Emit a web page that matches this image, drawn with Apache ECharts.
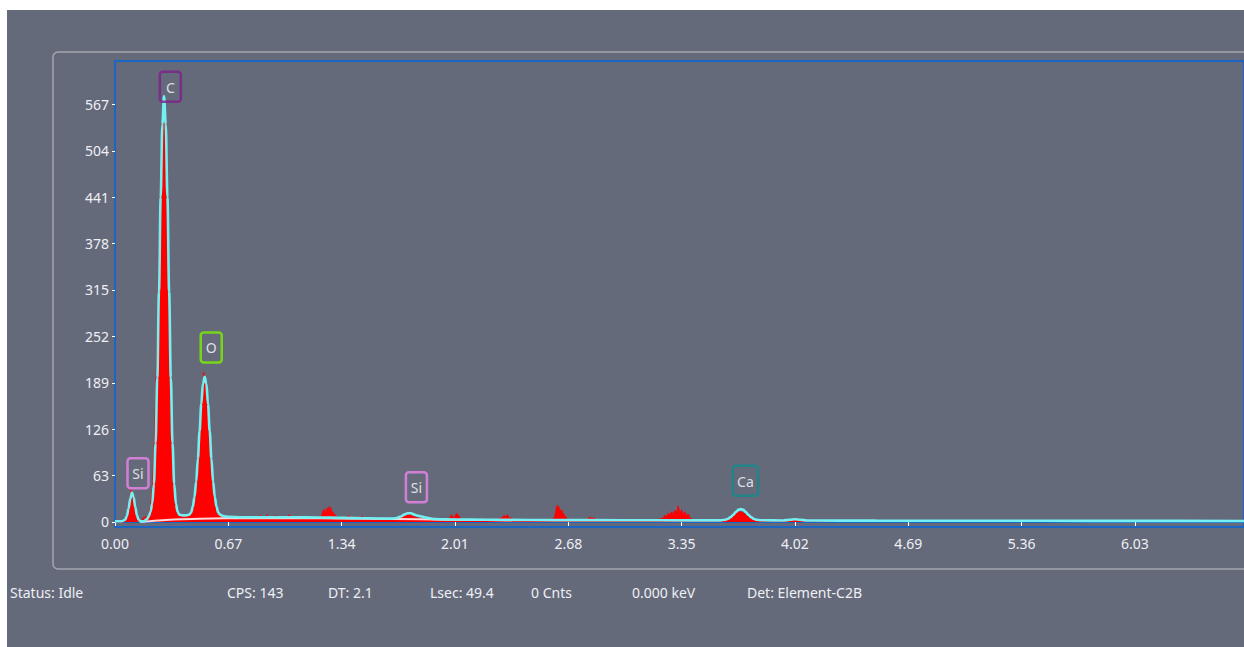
<!DOCTYPE html>
<html>
<head>
<meta charset="utf-8">
<title>EDS Spectrum</title>
<script src="https://cdn.jsdelivr.net/npm/echarts@6.0.0/dist/echarts.min.js"></script>
<style>
  html, body { margin: 0; padding: 0; background: #ffffff; width: 1244px; height: 647px; overflow: hidden; }
  #chart { position: absolute; left: 7px; top: 10px; width: 1237px; height: 637px; }
</style>
</head>
<body>
<div id="chart"></div>
<script>
// Measured counts per energy channel [keV, counts]
const measuredSpectrum = [
  [0.00,0],[0.06,0],[0.07,3],[0.08,12],[0.085,26],[0.09,38],[0.095,44],[0.10,42],[0.105,36],[0.11,30],
  [0.115,22],[0.12,14],[0.13,5],[0.14,1],[0.15,0],[0.16,2],[0.165,6],[0.17,3],[0.18,8],[0.19,5],[0.20,12],
  [0.21,22],[0.22,45],[0.23,95],[0.24,170],[0.25,250],[0.26,370],[0.27,470],[0.28,540],[0.29,558],[0.30,525],
  [0.31,430],[0.32,300],[0.33,185],[0.34,100],[0.35,48],[0.36,22],[0.37,12],[0.38,9],[0.39,7],[0.40,8],
  [0.41,6],[0.42,9],[0.43,8],[0.44,11],
  [0.45,15],[0.46,22],[0.47,36],[0.48,58],[0.49,90],[0.50,128],[0.51,165],[0.52,192],[0.525,203],[0.53,198],
  [0.54,185],[0.55,158],[0.56,120],[0.57,84],[0.58,52],[0.59,32],[0.60,18],[0.61,11],[0.62,8],
  [0.64,6],[0.66,4],[0.68,7],[0.70,5],[0.72,3],[0.74,6],[0.76,4],[0.78,8],[0.80,5],[0.82,3],[0.84,6],
  [0.86,9],[0.87,4],[0.89,7],[0.90,10],[0.91,5],[0.93,6],[0.95,9],[0.96,4],[0.98,3],[1.00,8],[1.01,5],
  [1.03,10],[1.04,4],[1.06,6],[1.08,3],[1.10,5],[1.12,7],[1.14,4],[1.16,6],[1.18,5],[1.20,4],[1.22,7],
  [1.225,12],[1.23,16],[1.235,10],[1.24,18],[1.245,14],[1.25,13],[1.255,19],[1.26,15],[1.265,21],[1.27,12],
  [1.275,20],[1.28,16],[1.285,9],[1.29,14],[1.295,6],[1.30,11],[1.305,5],[1.31,8],[1.32,4],
  [1.34,6],[1.36,3],[1.38,9],[1.40,4],[1.42,7],[1.44,3],[1.46,8],[1.48,4],[1.50,6],[1.52,3],[1.55,5],
  [1.58,3],[1.61,4],[1.64,3],
  [1.67,4],[1.70,7],[1.72,9],[1.74,10],[1.76,8],[1.78,6],[1.80,5],[1.83,3],[1.86,4],[1.89,2],[1.92,3],[1.95,2],
  [1.98,6],[1.99,10],[2.00,5],[2.01,8],[2.02,12],[2.03,9],[2.04,6],[2.05,3],
  [2.08,2],[2.12,3],[2.16,2],[2.20,3],[2.24,2],[2.27,4],
  [2.29,6],[2.30,9],[2.31,7],[2.32,10],[2.33,5],[2.34,6],[2.35,3],
  [2.40,2],[2.45,3],[2.50,2],[2.55,3],[2.59,4],
  [2.60,8],[2.605,14],[2.61,20],[2.615,23],[2.62,18],[2.625,21],[2.63,15],[2.635,17],[2.64,12],[2.645,16],
  [2.65,9],[2.655,11],[2.66,6],[2.665,8],[2.67,4],
  [2.70,2],[2.74,3],[2.78,2],[2.80,5],[2.81,7],[2.82,4],[2.83,6],[2.85,2],[2.90,2],[2.95,3],[3.00,2],
  [3.05,2],[3.10,3],[3.15,2],[3.20,3],
  [3.24,5],[3.25,9],[3.26,7],[3.27,12],[3.28,10],[3.29,14],[3.30,11],[3.31,16],[3.32,13],[3.33,22],
  [3.34,12],[3.35,17],[3.36,10],[3.37,14],[3.38,8],[3.39,11],[3.40,5],[3.42,3],
  [3.46,2],[3.52,2],[3.58,2],
  [3.61,3],[3.63,5],[3.65,9],[3.67,12],[3.69,14],[3.71,13],[3.73,10],[3.75,6],[3.77,3],[3.80,2],
  [3.86,1],[3.95,2],[4.02,3],[4.08,1],[4.20,1],[4.40,1],[4.72,2],[4.75,1],[4.80,2],[5.00,1],[5.50,1],
  [6.00,1],[6.20,2],[6.60,1],[6.70,1]
];

// Fitted spectrum (peaks + continuum) [keV, counts]
const fitSpectrum = [
  [0.00,1],[0.04,1],[0.06,3],[0.07,8],[0.08,18],[0.09,31],[0.10,40],[0.11,34],[0.12,20],[0.13,9],
  [0.14,3],[0.15,1],[0.17,1],[0.19,4],[0.20,8],[0.21,14],[0.22,25],[0.23,52],[0.24,107],[0.25,196],
  [0.26,313],[0.27,441],[0.28,540],[0.29,578],[0.30,540],[0.31,441],[0.32,313],[0.33,196],[0.34,107],
  [0.35,52],[0.36,25],[0.37,14],[0.38,10],[0.40,9],[0.42,9],[0.44,10],[0.45,13],[0.46,21],[0.47,34],
  [0.48,55],[0.49,86],[0.50,123],[0.51,160],[0.52,188],[0.53,197],[0.54,188],[0.55,160],[0.56,123],
  [0.57,86],[0.58,55],[0.59,34],[0.60,21],[0.61,13],[0.62,10],[0.64,8],[0.67,7],[0.75,6.5],[0.90,6.5],
  [1.05,6.4],[1.20,6.2],[1.35,5.6],[1.50,5],[1.62,4.6],[1.66,5],[1.69,7.5],[1.71,10],[1.73,11.8],
  [1.75,11.8],[1.77,10],[1.79,8.5],[1.81,7.5],[1.83,6.5],[1.86,5],[1.89,4],[1.95,3.6],[2.10,3.2],
  [2.30,2.9],[2.60,2.6],[3.00,2.4],[3.40,2.2],[3.58,2.2],[3.61,3.1],[3.625,4.4],[3.64,6.6],[3.655,9.8],
  [3.67,13.4],[3.685,16.4],[3.70,17.5],[3.715,16.4],[3.73,13.4],[3.745,9.8],[3.76,6.6],[3.775,4.4],
  [3.79,3.1],[3.82,2.3],[3.95,2],[3.99,3],[4.02,3.8],[4.05,3],[4.09,2],[4.50,1.8],[5.00,1.7],[5.50,1.6],
  [6.00,1.5],[6.70,1.4]
];

// Bremsstrahlung background estimate [keV, counts]
const backgroundFit = [
  [0.15,0],[0.20,1],[0.25,2],[0.30,2.8],[0.40,3.8],[0.50,4.5],[0.65,5],[0.90,5.2],[1.20,5],
  [1.50,4.4],[1.80,3.6],[2.10,2.8],[2.35,2.2]
];

// Identified element lines: label, energy (keV) and count level of the tag
const markerNames  = ['Si', 'C', 'O', 'Si', 'Ca'];
const markerEnergy = [0.136, 0.327, 0.569, 1.782, 3.727];
const markerLevel  = [45, 570, 216, 26, 35];

// Axis ticks
const yTickValues = [0, 63, 126, 189, 252, 315, 378, 441, 504, 567];
const xTickStep = 0.67;

// Status bar readouts
const statusItems = ['Status: Idle', 'CPS: 143', 'DT: 2.1', 'Lsec: 49.4', '0 Cnts', '0.000 keV', 'Det: Element-C2B'];

// ---- presentation ----
const FONT = "'Noto Sans', 'Open Sans', sans-serif";
const TEXT_COLOR = '#eef0f4';
const FRAME_BLUE = '#1b66c4';
const markerColors = { C: '#80208a', O: '#7cf000', Si: '#ee84ee', Ca: '#0e8c8c' };
const markerWidths = { C: 11, O: 11, Si: 11, Ca: 15 };
const statusX = [3, 220, 321, 423, 524, 625, 740];

const chart = echarts.init(document.getElementById('chart'), null, { renderer: 'svg' });

chart.setOption({
  animation: false,
  backgroundColor: '#656a7b',
  textStyle: { fontFamily: FONT },
  graphic: [
    {
      type: 'rect', z: -10, silent: true,
      shape: { x: 46, y: 42, width: 1300, height: 517, r: 5 },
      style: { fill: 'none', stroke: '#a3a6ae', lineWidth: 1.5 }
    }
  ].concat(statusItems.map((t, i) => ({
    type: 'text', silent: true,
    x: statusX[i], y: 582,
    style: { text: t, fill: TEXT_COLOR, font: '14px ' + FONT, textVerticalAlign: 'middle' }
  }))),
  grid: {
    left: 108, top: 51, right: -3, bottom: 120,
    show: true, borderColor: FRAME_BLUE, borderWidth: 2, backgroundColor: 'transparent'
  },
  xAxis: {
    type: 'value', min: 0, max: 6.675, interval: xTickStep,
    axisLine: { show: true, lineStyle: { color: FRAME_BLUE, width: 2 } },
    axisTick: { show: true, length: 4, lineStyle: { color: '#ffffff', width: 1 } },
    axisLabel: {
      color: TEXT_COLOR, fontSize: 14, fontFamily: FONT, margin: 9,
      showMaxLabel: false,
      formatter: v => v.toFixed(2)
    },
    splitLine: { show: false }
  },
  yAxis: {
    type: 'value', min: -6.8, max: 625.9,
    axisLine: { show: true, lineStyle: { color: FRAME_BLUE, width: 2 } },
    axisTick: { show: true, length: 3, customValues: yTickValues, lineStyle: { color: '#ffffff', width: 1 } },
    axisLabel: {
      color: TEXT_COLOR, fontSize: 14, fontFamily: FONT, margin: 6,
      customValues: yTickValues,
      formatter: v => String(Math.round(v))
    },
    splitLine: { show: false }
  },
  series: [
    {
      name: 'Measured', type: 'line', data: measuredSpectrum,
      symbol: 'none', z: 2,
      lineStyle: { color: '#ff0000', width: 0.8 },
      areaStyle: { color: '#ff0000', opacity: 1 }
    },
    {
      name: 'Background', type: 'line', data: backgroundFit,
      symbol: 'none', smooth: 0.4, z: 3,
      lineStyle: { color: '#ffffff', width: 2, opacity: 0.85 }
    },
    {
      name: 'Fit', type: 'line', data: fitSpectrum,
      symbol: 'none', smooth: 0.35, smoothMonotone: 'x', z: 4,
      lineStyle: { color: '#72f0f2', width: 2.6 }
    },
    {
      name: 'Elements', type: 'scatter', z: 5,
      symbolSize: 1, itemStyle: { color: 'transparent' },
      data: markerNames.map((n, i) => ({
        name: n,
        value: [markerEnergy[i], markerLevel[i]],
        label: { borderColor: markerColors[n], width: markerWidths[n] }
      })),
      label: {
        show: true, position: 'top', distance: 0,
        formatter: '{b}',
        color: '#ffffff', fontSize: 14, fontFamily: FONT, lineHeight: 15,
        align: 'center',
        padding: [8, 5, 7, 5],
        borderWidth: 2.5, borderRadius: 3
      }
    }
  ]
});
</script>
</body>
</html>
